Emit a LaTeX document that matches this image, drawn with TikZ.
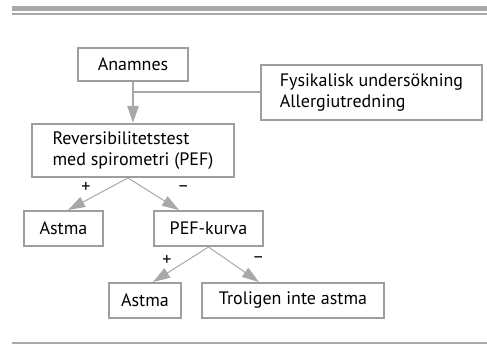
\documentclass[tikz,border=0pt]{standalone}
\usepackage{fontspec}
\setmainfont{PT Sans}
\usepackage{tikz}
\usetikzlibrary{positioning, arrows.meta}

\definecolor{boxgray}{gray}{0.62}
\definecolor{linegray}{gray}{0.66}

\tikzset{
  box/.style={draw=boxgray, line width=2pt, inner xsep=6pt, inner ysep=0pt, align=left,
    font=\fontsize{18pt}{21pt}\selectfont},
  flow/.style={color=linegray, line width=1pt, -{Triangle[length=17pt, width=11pt]}},
  sign/.style={inner sep=0pt, text=black, font=\fontsize{18pt}{18pt}\selectfont}
}

\begin{document}
\begin{tikzpicture}[x=1pt, y=-1pt]
        \useasboundingbox (0,0) rectangle (487,344);
        \draw[linegray, line width=5pt] (12,8.5) -- (487,8.5);
        \draw[linegray, line width=2pt] (12,14) -- (487,14);
        \draw[linegray, line width=2pt] (12,343) -- (487,343);
        %---------------------------
        \node[box, minimum width=110pt, minimum height=33pt] (anam) at (133,64.5) {Anamnes};
        \node[box, minimum width=221pt, minimum height=55pt, right=71pt of anam, yshift=-28pt] (fys) {Fysikalisk undersökning\\Allergiutredning};
        \node[box, minimum width=202pt, minimum height=53pt, below=41pt of anam] (rev) {Reversibilitetstest\\med spirometri (PEF)};
        \node[box, minimum width=79pt, minimum height=35pt, below=32pt of rev, xshift=-69.5pt] (astma1) {Astma};
        \node[box, minimum width=109pt, minimum height=35pt, below=32pt of rev, xshift=75.5pt] (pef) {PEF-kurva};
        \node[box, minimum width=72pt, minimum height=35pt, below=35pt of pef, xshift=-63.5pt] (astma2) {Astma};
        \node[box, minimum width=182pt, minimum height=35pt, below=35pt of pef, xshift=84.5pt] (trol) {Troligen inte astma};
        \coordinate (revfork) at ([xshift=-5pt]rev.south);
        %--------------------------
        \draw[flow, line width=2.5pt] (anam) -- (rev);
        \draw[linegray, line width=2pt] (fys.west) -- (fys.west -| anam.south);
        \draw[flow] (revfork) -- node[sign, pos=0.7, above=7pt] {+} ([xshift=4.5pt]astma1.north);
        \draw[flow] (revfork) -- node[sign, pos=0.8, above right=12pt and 8pt] {–} ([xshift=26pt]pef.north west);
        \draw[flow] (pef.south) -- node[sign, pos=0.75, above=7pt] {+} ([xshift=8pt]astma2.north);
        \draw[flow] (pef.south) -- node[sign, pos=0.8, above right=12pt and 3pt] {–} ([xshift=58pt]trol.north west);
\end{tikzpicture}
\end{document}
